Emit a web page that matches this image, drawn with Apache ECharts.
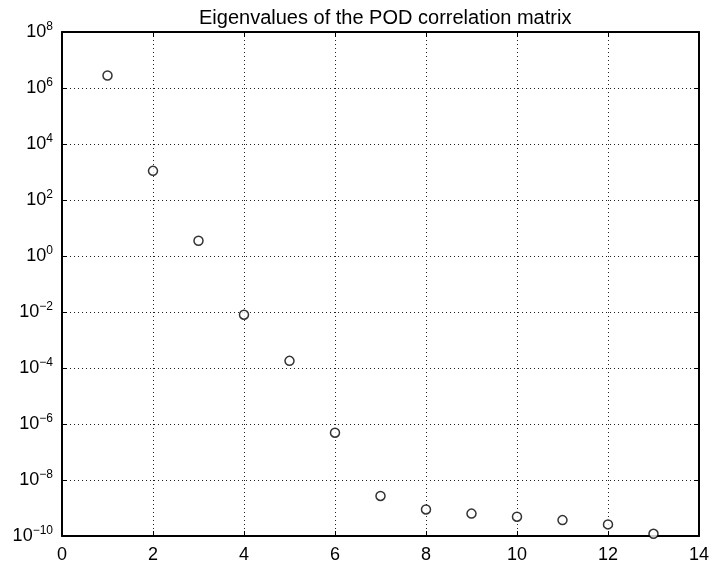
<!DOCTYPE html>
<html>
<head>
    <meta charset="utf-8">
    <title>Eigenvalues of the POD correlation matrix</title>
    <script src="https://cdn.jsdelivr.net/npm/echarts@6/dist/echarts.min.js"></script>
    <style>
        html, body { margin: 0; padding: 0; background: #fff; }
        #chartmain { width: 712px; height: 566px; }
    </style>
</head>
<body>
<div id="chartmain"></div>
<script type="text/javascript">
    // mode index and eigenvalue
    var modes = [1, 2, 3, 4, 5, 6, 7, 8, 9, 10, 11, 12, 13];
    var eigenvalues = [2.8e6, 1.1e3, 3.5, 8e-3, 1.8e-4, 4.9e-7, 2.7e-9, 8.9e-10, 6.3e-10, 4.9e-10, 3.7e-10, 2.6e-10, 1.2e-10];
    var xTicks = [0, 2, 4, 6, 8, 10, 12, 14];
    var yExponents = [-10, -8, -6, -4, -2, 0, 2, 4, 6, 8];

    var points = [];
    for (var i = 0; i < modes.length; i++) {
        points.push([modes[i], eigenvalues[i]]);
    }

    var font = 'Liberation Sans, Arial, Helvetica, sans-serif';
    var gridLine = { show: true, lineStyle: { color: '#222', width: 1, type: [1, 3] } };
    var axisLine = { show: true, onZero: false, lineStyle: { color: '#000', width: 2 } };
    var tick = { show: true, inside: true, length: 5, lineStyle: { color: '#000', width: 1 } };

    function powLabel(v) {
        var e = Math.round(Math.log10(v));
        var s = e < 0 ? '\u2212' + (-e) : '' + e;
        return '10{sup|' + s + '}';
    }

    var myChart = echarts.init(document.getElementById('chartmain'));
    myChart.setOption({
        animation: false,
        backgroundColor: '#fff',
        title: {
            text: 'Eigenvalues of the POD correlation matrix',
            left: 194, top: 3,
            textStyle: { fontFamily: font, fontSize: 20, fontWeight: 'normal', color: '#000' }
        },
        grid: { left: 62, top: 32, right: 12, bottom: 30 },
        xAxis: [{
            type: 'value', min: xTicks[0], max: xTicks[xTicks.length - 1], interval: 2,
            axisLine: axisLine, axisTick: tick, splitLine: gridLine,
            axisLabel: { color: '#000', fontFamily: font, fontSize: 18, margin: 10 }
        }, {
            type: 'value', position: 'top', min: xTicks[0], max: xTicks[xTicks.length - 1], interval: 2,
            axisLine: axisLine, axisTick: tick, splitLine: { show: false }, axisLabel: { show: false }
        }],
        yAxis: [{
            type: 'log', logBase: 10, min: Math.pow(10, yExponents[0]), max: Math.pow(10, yExponents[yExponents.length - 1]),
            interval: 2,
            axisLine: axisLine, axisTick: tick, splitLine: gridLine, minorTick: { show: false },
            axisLabel: {
                color: '#000', fontFamily: font, fontSize: 18, margin: 9,
                formatter: powLabel,
                rich: { sup: { fontFamily: font, fontSize: 12, verticalAlign: 'top', padding: [0, 0, 10, 0], color: '#000' } }
            }
        }, {
            type: 'log', logBase: 10, position: 'right', min: Math.pow(10, yExponents[0]), max: Math.pow(10, yExponents[yExponents.length - 1]),
            interval: 2,
            axisLine: axisLine, axisTick: tick, splitLine: { show: false }, axisLabel: { show: false }
        }],
        series: [{
            type: 'scatter',
            data: points,
            symbol: 'circle',
            symbolSize: 9,
            itemStyle: { color: '#fff', borderColor: '#000', borderWidth: 1.5 },
            clip: false
        }]
    });
</script>
</body>
</html>
